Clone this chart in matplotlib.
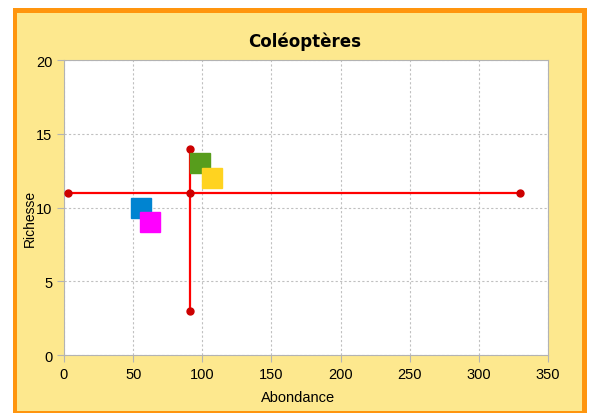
import matplotlib.pyplot as plt
from matplotlib.patches import Rectangle

# Data
group_x = [56, 62, 98, 107]
group_y = [10, 9, 13, 12]
group_colors = ['#0084d1', '#ff00ff', '#579d1c', '#ffd320']

h_x = [3, 91, 330]
h_y = [11, 11, 11]
v_x = [91, 91]
v_y = [14, 3]

plt.rcParams['font.family'] = ['Liberation Sans', 'DejaVu Sans']

fig = plt.figure(figsize=(5.9, 4.14), dpi=100)
W, H = 590, 414

# frame: orange border and yellow panel
fig.patches.append(Rectangle((13 / W, 0), 574 / W, 1 - 9 / H, transform=fig.transFigure,
                             facecolor='#ff950e', edgecolor='none', zorder=-10))
fig.patches.append(Rectangle((17 / W, 2 / H), 565 / W, 1 - 16 / H, transform=fig.transFigure,
                             facecolor='#fde88e', edgecolor='none', zorder=-9))

ax = fig.add_axes([64 / W, 1 - 356 / H, (548 - 64) / W, (356 - 61) / H])
ax.set_facecolor('white')

ax.plot(h_x, h_y, color='#ff0000', lw=1.6, zorder=2)
ax.plot(v_x, v_y, color='#ff0000', lw=1.6, zorder=2)
ax.plot(h_x + v_x, h_y + v_y, 'o', color='#cc0000', ms=5, zorder=3, linestyle='none')

for x, y, c in zip(group_x, group_y, group_colors):
    ax.plot(x, y, 's', color=c, ms=14.5, zorder=4)

ax.set_xlim(0, 350)
ax.set_ylim(0, 20)
ax.set_xticks(range(0, 351, 50))
ax.set_yticks(range(0, 21, 5))
ax.grid(True, color='#c0c0c0', linestyle=(0, (2, 2)), lw=0.8)
ax.set_axisbelow(True)
for s in ax.spines.values():
    s.set_color('#b3b3b3')
ax.tick_params(colors='#b3b3b3', labelcolor='black', labelsize=10.5, length=5)

fig.text(305 / W, 1 - 42 / H, 'Coléoptères', ha='center', va='center',
         fontsize=12, fontweight='bold', family=['DejaVu Sans'])
fig.text(298 / W, 1 - 398 / H, 'Abondance', ha='center', va='center', fontsize=10.5)
fig.text(30 / W, 1 - 218 / H, 'Richesse', ha='center', va='center', fontsize=10, rotation=90)

fig.savefig('out.png', dpi=100)
